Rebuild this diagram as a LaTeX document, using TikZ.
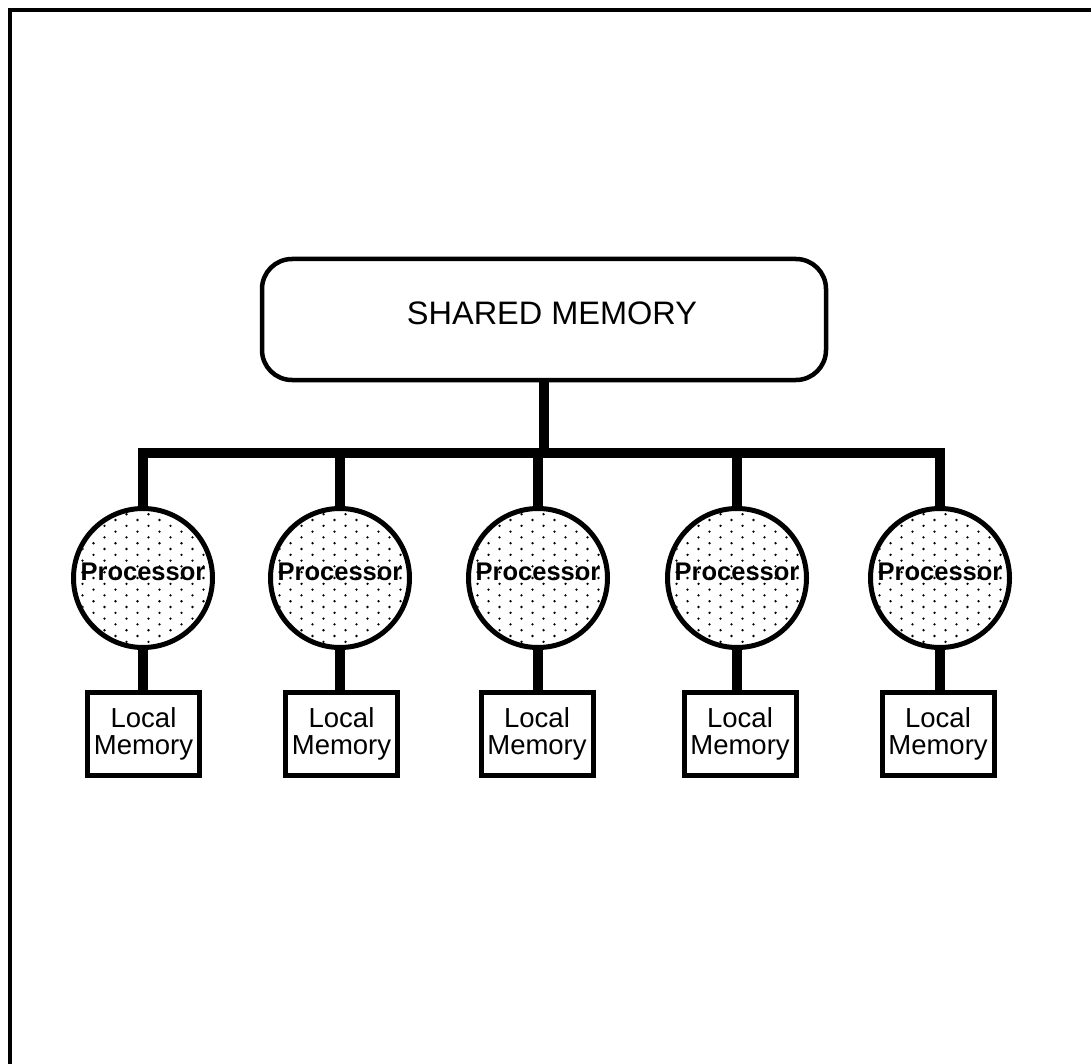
\documentclass[tikz,border=0pt]{standalone}
\usepackage{fontspec}
\setmainfont{Liberation Sans}
\usetikzlibrary{calc}
\begin{document}
\begin{tikzpicture}[x=1pt,y=-1pt,
  frame/.style={line width=4pt},
  sharedbox/.style={draw, line width=4.5pt, rounded corners=30pt,
    minimum width=564pt, minimum height=121pt, inner sep=0pt},
  sharedtext/.style={inner sep=0pt, font=\fontsize{32.5}{38}\selectfont},
  proc/.style={circle, draw, line width=5pt, minimum size=139pt, inner sep=0pt},
  proctext/.style={inner sep=0pt, text height=18pt, text depth=14pt,
    font=\fontsize{25.5}{30}\selectfont\bfseries},
  lmem/.style={draw, line width=5pt, minimum width=112pt, minimum height=83pt,
    inner sep=0pt, align=center, font=\fontsize{27.5}{27}\selectfont},
  wire/.style={line width=10.5pt, line join=miter},
  dot/.style={fill=black}]
\useasboundingbox (0,0) rectangle (1091,1064);

% frame edges (top and left)
\draw[frame] (9.5,1064) -- (9.5,10) -- (1091,10);

% shared memory
\node[sharedbox] (sm) at (544,319.5) {};
\node[sharedtext] (smt) at (552,313.5) {SHARED MEMORY};

% bus taps
\foreach \i/\x in {1/143,2/340,3/538,4/737,5/940}
  \coordinate (b\i) at (\x,453);

% processors with a staggered dot fill
\foreach \i/\x in {1/143,2/340,3/538,4/737,5/940} {
  \node[proc] (p\i) at (\x,578) {};
  \begin{scope}
    \clip (p\i.center) circle (67);
    \foreach \r in {-12,...,12} {
      \pgfmathsetmacro\off{mod(\r+20,2)*11}
      \foreach \c in {-4,...,4}
        \fill[dot] ($(p\i.center)+(22*\c+\off-5.5,5.8*\r)$) circle (1.3);
    }
  \end{scope}
  \node[proctext] (pt\i) at (p\i.center) {Processor};
}

% local memories
\foreach \i/\x in {1/143.5,2/341.5,3/537,4/740,5/938}
  \node[lmem] (m\i) at (\x,734) {Local\\Memory};

% connectors
\draw[wire] (sm.south) -- (sm.south |- b3);
\draw[wire] (p1.north) -- (b1) -- (b5) -- (p5.north);
\foreach \i in {2,3,4}
  \draw[wire] (b\i) -- (p\i.north);
\foreach \i in {1,...,5}
  \draw[wire] (p\i.south) -- (p\i.south |- m\i.north);
\end{tikzpicture}
\end{document}
